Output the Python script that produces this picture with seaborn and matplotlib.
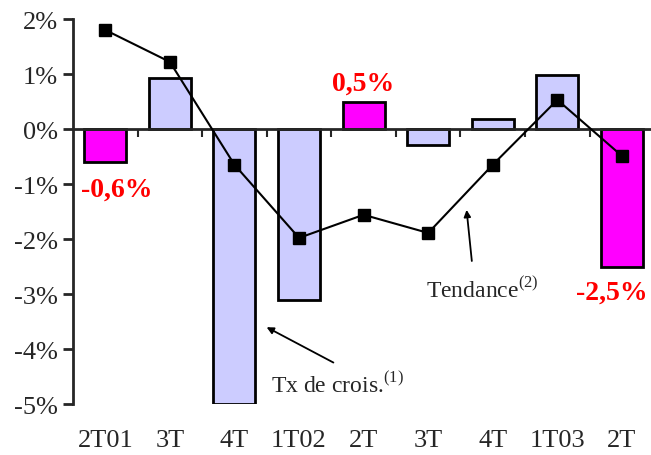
import seaborn as sns
import pandas as pd
import matplotlib.pyplot as plt

# Quarterly data
quarters = ["2T01", "3T", "4T", "1T02", "2T", "3T", "4T", "1T03", "2T"]
growth = [-0.6, 0.93, -5.0, -3.1, 0.5, -0.29, 0.18, 0.98, -2.5]
trend = [1.8, 1.22, -0.65, -1.98, -1.56, -1.89, -0.65, 0.53, -0.49]
highlight = [True, False, False, False, True, False, False, False, True]
yticks = [2, 1, 0, -1, -2, -3, -4, -5]

df = pd.DataFrame({"pos": range(len(quarters)), "growth": growth, "trend": trend})
colors = ["#FF00FF" if h else "#CCCCFF" for h in highlight]

sns.set_style("white")
plt.rcParams["font.family"] = ["Liberation Serif", "DejaVu Serif"]
plt.rcParams["mathtext.fontset"] = "custom"
plt.rcParams["mathtext.rm"] = "Liberation Serif"

fig = plt.figure(figsize=(6.51, 4.56), dpi=100)
ax = fig.add_axes([73 / 651, 1 - 405 / 456, 1 - 73 / 651, (405 - 20) / 456])

sns.barplot(data=df, x="pos", y="growth", hue="pos", palette=colors, legend=False,
            width=0.65, edgecolor="black", linewidth=2, ax=ax, saturation=1)
ax.plot(df["pos"], df["trend"], color="black", lw=1.5, marker="s", markersize=8.5, zorder=5)

ax.set_xlim(-0.5, 8.45)
ax.set_ylim(-5, 2)
ax.set_xlabel("")
ax.set_ylabel("")

# y axis
ax.set_yticks(yticks)
ax.set_yticklabels([f"{v}%" for v in yticks], fontsize=19)
ax.tick_params(axis="y", direction="out", length=7, width=2, left=True, pad=4)
ax.spines["left"].set_linewidth(2)
ax.spines["top"].set_visible(False)
ax.spines["right"].set_visible(False)

# x axis at zero with ticks between bars
ax.spines["bottom"].set_position(("data", 0))
ax.spines["bottom"].set_linewidth(2)
ax.set_xticks([i + 0.5 for i in range(len(quarters) - 1)])
ax.set_xticklabels([])
ax.tick_params(axis="x", direction="out", length=6, width=1.5, bottom=True)

sec = ax.secondary_xaxis("bottom")
sec.set_xticks(range(len(quarters)))
sec.set_xticklabels(quarters, fontsize=19)
sec.tick_params(length=0, pad=18)
sec.spines["bottom"].set_visible(False)

# value labels
lab_style = dict(color="red", fontsize=20, fontweight="bold", ha="center", va="center")
ax.text(0.17, -1.09, "-0,6%", **lab_style)
ax.text(4.0, 0.84, "0,5%", **lab_style)
ax.text(7.85, -2.96, "-2,5%", **lab_style)

# annotations
ax.annotate("", xy=(2.46, -3.58), xytext=(3.57, -4.27),
            arrowprops=dict(arrowstyle="-|>", color="black", lw=1.3, mutation_scale=10))
ax.text(3.6, -4.64, r"Tx de crois.$^{(1)}$", fontsize=17, ha="center", va="center")
ax.annotate("", xy=(5.59, -1.42), xytext=(5.68, -2.45),
            arrowprops=dict(arrowstyle="-|>", color="black", lw=1.3, mutation_scale=10))
ax.text(5.84, -2.91, r"Tendance$^{(2)}$", fontsize=17, ha="center", va="center")

fig.savefig("out.png", dpi=100)
